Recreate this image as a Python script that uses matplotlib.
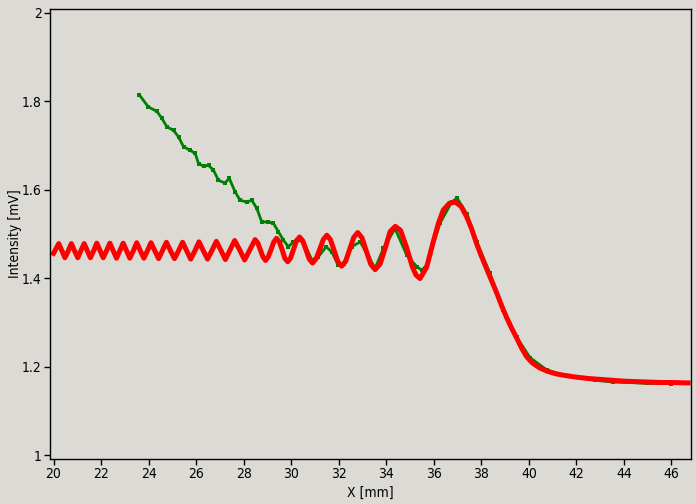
import matplotlib
matplotlib.use("Agg")
import matplotlib.pyplot as plt

# Fitted curve
red_x = [20.00, 20.22, 20.35, 20.48, 20.62, 20.75, 20.88, 21.02, 21.15, 21.29,
         21.42, 21.55, 21.69, 21.82, 21.96, 22.09, 22.23, 22.37, 22.51, 22.65,
         22.79, 22.93, 23.07, 23.21, 23.36, 23.50, 23.65, 23.80, 23.95, 24.10,
         24.26, 24.42, 24.58, 24.75, 24.92, 25.09, 25.26, 25.43, 25.60, 25.77,
         25.95, 26.12, 26.30, 26.48, 26.66, 26.85, 27.04, 27.23, 27.42, 27.62,
         27.83, 28.04, 28.26, 28.48, 28.59, 28.70, 28.81, 28.92, 29.03, 29.15,
         29.26, 29.38, 29.50, 29.62, 29.73, 29.85, 29.97, 30.10, 30.22, 30.35,
         30.49, 30.62, 30.76, 30.90, 31.05, 31.20, 31.35, 31.50, 31.65, 31.81,
         31.96, 32.12, 32.29, 32.46, 32.63, 32.80, 32.98, 33.16, 33.35, 33.53,
         33.74, 33.95, 34.16, 34.38, 34.60, 34.85, 35.10, 35.25, 35.42, 35.70,
         35.98, 36.20, 36.40, 36.65, 36.90, 37.15, 37.38, 37.60, 37.80, 38.00,
         38.23, 38.45, 38.65, 38.85, 39.07, 39.28, 39.49, 39.70, 39.91, 40.15,
         40.45, 40.75, 41.10, 41.50, 42.00, 42.50, 43.00, 43.50, 44.00, 44.50,
         45.00, 45.50, 46.00, 46.70]
red_y = [1.456, 1.478, 1.462, 1.446, 1.462, 1.478, 1.462, 1.446, 1.462, 1.478,
         1.462, 1.446, 1.462, 1.479, 1.462, 1.446, 1.462, 1.479, 1.462, 1.445,
         1.462, 1.479, 1.462, 1.445, 1.462, 1.480, 1.462, 1.445, 1.462, 1.480,
         1.462, 1.444, 1.462, 1.481, 1.462, 1.444, 1.462, 1.481, 1.462, 1.443,
         1.462, 1.482, 1.462, 1.443, 1.462, 1.483, 1.463, 1.442, 1.463, 1.485,
         1.464, 1.441, 1.464, 1.487, 1.480, 1.464, 1.448, 1.440, 1.448, 1.464,
         1.481, 1.490, 1.482, 1.464, 1.445, 1.437, 1.445, 1.465, 1.484, 1.493,
         1.484, 1.464, 1.443, 1.434, 1.444, 1.465, 1.487, 1.497, 1.487, 1.462,
         1.437, 1.427, 1.438, 1.465, 1.492, 1.503, 1.491, 1.461, 1.431, 1.419,
         1.432, 1.467, 1.505, 1.517, 1.508, 1.470, 1.425, 1.407, 1.399, 1.425,
         1.483, 1.525, 1.554, 1.569, 1.572, 1.562, 1.539, 1.510, 1.478, 1.450,
         1.420, 1.392, 1.366, 1.338, 1.310, 1.286, 1.264, 1.241, 1.222, 1.208,
         1.197, 1.190, 1.184, 1.180, 1.176, 1.173, 1.171, 1.169, 1.167, 1.166,
         1.165, 1.164, 1.164, 1.163]

# Measured data
green_x = [23.60, 23.99, 24.35, 24.56, 24.77, 25.05, 25.26, 25.47, 25.75, 25.96,
           26.10, 26.31, 26.52, 26.73, 26.94, 27.22, 27.39, 27.64, 27.85, 28.13,
           28.34, 28.55, 28.76, 29.04, 29.25, 29.46, 29.67, 29.88, 30.09, 30.24,
           30.51, 30.87, 31.14, 31.47, 31.71, 31.98, 32.20, 32.55, 32.90, 33.18,
           33.53, 33.88, 34.37, 34.86, 35.28, 35.49, 35.70, 36.26, 36.75, 36.98,
           37.40, 37.80, 38.36, 38.92, 39.49, 40.05, 40.76, 41.40, 42.15, 42.80,
           43.54, 44.20, 44.95, 45.50, 46.00]
green_y = [1.815, 1.787, 1.777, 1.761, 1.742, 1.734, 1.719, 1.697, 1.689, 1.682,
           1.659, 1.653, 1.655, 1.644, 1.621, 1.615, 1.626, 1.595, 1.576, 1.572,
           1.576, 1.558, 1.527, 1.527, 1.524, 1.505, 1.486, 1.471, 1.482, 1.486,
           1.482, 1.441, 1.448, 1.471, 1.459, 1.429, 1.433, 1.471, 1.482, 1.456,
           1.422, 1.467, 1.512, 1.452, 1.426, 1.418, 1.429, 1.524, 1.572, 1.581,
           1.544, 1.482, 1.411, 1.327, 1.266, 1.220, 1.192, 1.181, 1.174, 1.169,
           1.165, 1.164, 1.162, 1.162, 1.161]

bg = '#dcdad5'
plt.rcParams['font.family'] = ['DejaVu Sans']
plt.rcParams['font.stretch'] = 'condensed'
plt.rcParams['font.size'] = 10

fig = plt.figure(figsize=(6.96, 5.04), dpi=100, facecolor=bg)
ax = fig.add_axes([0.0718, 0.0893, 0.921, 0.8928], facecolor=bg)

ax.plot(green_x, green_y, color='#008000', lw=2.0, marker='s', ms=2.5,
        markeredgewidth=0)
ax.plot(red_x, red_y, color='#ff0000', lw=3.6, solid_joinstyle='round')

ax.set_xlim(19.85, 46.82)
ax.set_ylim(0.991, 2.0084)
ax.set_xticks(range(20, 47, 2))
ax.set_yticks([1, 1.2, 1.4, 1.6, 1.8, 2])
ax.set_yticklabels(['1', '1.2', '1.4', '1.6', '1.8', '2'])
ax.tick_params(direction='out', length=4, width=1, pad=2)
for s in ax.spines.values():
    s.set_linewidth(1)

ax.set_xlabel('X [mm]', labelpad=3)
ax.set_ylabel('Intensity [mV]', labelpad=0)

fig.savefig('out.png', dpi=100, facecolor=bg)
